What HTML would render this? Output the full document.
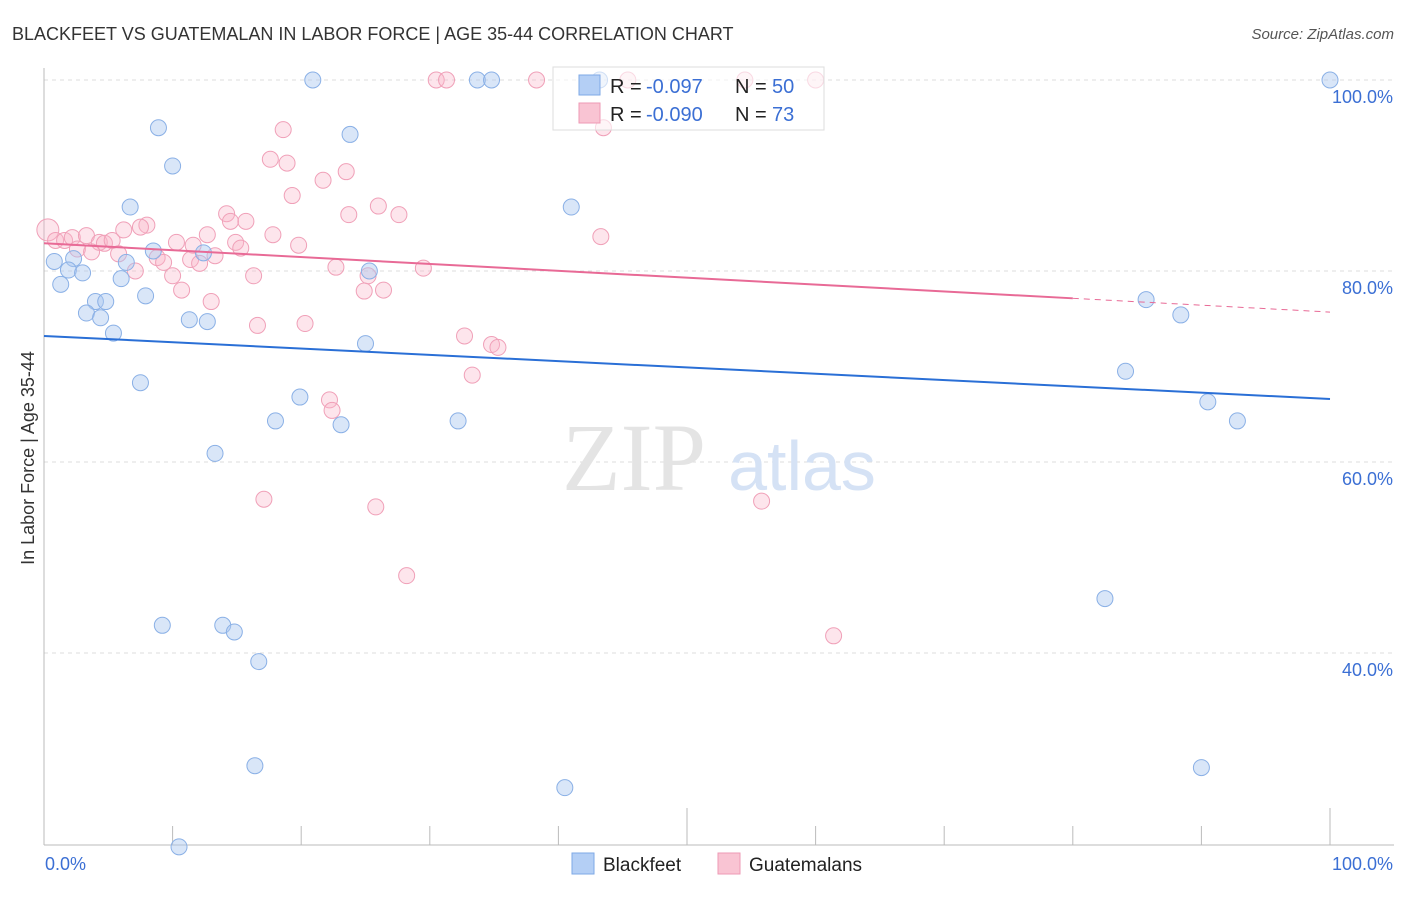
<!DOCTYPE html>
<html><head><meta charset="utf-8"><style>
body{margin:0;background:#fff;font-family:"Liberation Sans",sans-serif}
#wrap{position:relative;width:1406px;height:892px}
</style></head><body>
<div id="wrap">
<svg id="svg" width="1406" height="892" xmlns="http://www.w3.org/2000/svg"></svg>
</div>
<script>
const blueX=[20.9,33.7,34.8,100,43.2,8.9,23.8,10.0,6.7,41.0,0.8,2.3,1.9,3.0,8.5,6.4,1.3,6.0,7.9,4.0,4.8,3.3,4.4,11.3,12.7,5.4,25.0,25.3,12.4,7.5,19.9,18.0,23.1,32.2,13.3,85.7,88.4,84.1,90.5,92.8,82.5,9.2,13.9,14.8,16.7,16.4,40.5,90.0,10.5];
const blueY=[100,100,100,100,100,95.0,94.3,91.0,86.7,86.7,81.0,81.3,80.1,79.8,82.1,80.9,78.6,79.2,77.4,76.8,76.8,75.6,75.1,74.9,74.7,73.5,72.4,80.0,81.9,68.3,66.8,64.3,63.9,64.3,60.9,77.0,75.4,69.5,66.3,64.3,45.7,42.9,42.9,42.2,39.1,28.2,25.9,28.0,19.7];
const pinkX=[30.5,31.3,38.3,45.4,54.5,60.0,43.5,18.6,17.6,18.9,21.7,23.5,19.3,14.2,14.5,15.7,23.7,26.0,27.6,43.3,0.3,0.9,1.6,2.2,3.3,4.3,4.7,5.3,6.2,8.0,7.5,10.3,12.7,11.6,14.9,15.3,17.8,19.8,2.6,3.7,5.8,8.8,9.3,11.4,12.1,13.3,7.1,10.0,16.3,22.7,25.2,29.5,10.7,24.9,26.4,13.0,16.6,20.3,32.7,34.8,35.3,33.3,22.2,22.4,17.1,25.8,55.8,28.2,61.4];
const pinkY=[100,100,100,100,100,100,95.0,94.8,91.7,91.3,89.5,90.4,87.9,86.0,85.2,85.2,85.9,86.8,85.9,83.6,84.3,83.2,83.2,83.5,83.7,83.0,82.9,83.2,84.3,84.8,84.6,83.0,83.8,82.7,83.0,82.4,83.8,82.7,82.3,82.0,81.8,81.4,80.9,81.2,80.8,81.6,80.0,79.5,79.5,80.4,79.5,80.3,78.0,77.9,78.0,76.8,74.3,74.5,73.2,72.3,72.0,69.1,66.5,65.4,56.1,55.3,55.9,48.1,41.8];
const blueTrend=[73.2,66.6];
const pinkTrend=[82.9,75.7];
const yTicks=[100,80,60,40];
const xTicks=[10,20,30,40,50,60,70,80,90,100];

const NS="http://www.w3.org/2000/svg";
const svg=document.getElementById('svg');
const sx=v=>44+v*12.86;
const sy=v=>80+(100-v)*9.55;
function el(t,a,txt){const e=document.createElementNS(NS,t);for(const k in a)e.setAttribute(k,a[k]);if(txt!==undefined)e.textContent=txt;svg.appendChild(e);return e;}

let e;
e=el('text',{x:12,y:40,'font-size':18,fill:'#333'},'BLACKFEET VS GUATEMALAN IN LABOR FORCE | AGE 35-44 CORRELATION CHART');


e=el('text',{x:1394,y:39,'font-size':15,fill:'#555','text-anchor':'end','font-style':'italic'},'Source: ZipAtlas.com');



yTicks.forEach(v=>{
 e=el('line',{x1:44,x2:1394,y1:sy(v),y2:sy(v),stroke:'#ddd','stroke-dasharray':'4,4'});
 
 
 e=el('text',{x:1393,y:sy(v)+23,'font-size':18,fill:'#3b6fd4','text-anchor':'end'},v.toFixed(1)+'%');
 
 
});
e=el('text',{x:0,y:0,'font-size':18,fill:'#333','text-anchor':'middle',transform:'translate(34,458) rotate(-90)'},'In Labor Force | Age 35-44');



e=el('text',{x:634,y:490,'font-size':96,fill:'#e4e4e4','font-family':'Liberation Serif, serif','text-anchor':'middle'},'ZIP');


e=el('text',{x:802,y:490,'font-size':70,fill:'#d5e2f5','text-anchor':'middle'},'atlas');



e=el('line',{x1:44,x2:44,y1:68,y2:845,stroke:'#bbb'});


e=el('line',{x1:44,x2:1394,y1:845,y2:845,stroke:'#bbb'});


xTicks.forEach(v=>{
 const top=(v===50||v===100)?808:826;
 e=el('line',{x1:sx(v),x2:sx(v),y1:top,y2:845,stroke:'#bbb'});
 
 
});
e=el('text',{x:45,y:870,'font-size':18,fill:'#3b6fd4'},'0.0%');


e=el('text',{x:1393,y:870,'font-size':18,fill:'#3b6fd4','text-anchor':'end'},'100.0%');



pinkX.forEach((x,i)=>{
 e=el('circle',{cx:sx(x),cy:sy(pinkY[i]),r:i===20?11:8,fill:'rgba(248,180,200,0.35)',stroke:'#f0a0b8','stroke-width':1});
 
 
});
blueX.forEach((x,i)=>{
 e=el('circle',{cx:sx(x),cy:sy(blueY[i]),r:8,fill:'rgba(170,200,240,0.45)',stroke:'#8ab0e6','stroke-width':1});
 
 
});
e=el('line',{x1:sx(0),y1:sy(blueTrend[0]),x2:sx(100),y2:sy(blueTrend[1]),stroke:'#2a6fd6','stroke-width':2});


const pAt=v=>pinkTrend[0]+(pinkTrend[1]-pinkTrend[0])*v/100;
e=el('line',{x1:sx(0),y1:sy(pAt(0)),x2:sx(80),y2:sy(pAt(80)),stroke:'#e86a96','stroke-width':2});


e=el('line',{x1:sx(80),y1:sy(pAt(80)),x2:sx(100),y2:sy(pAt(100)),stroke:'#e86a96','stroke-width':1,'stroke-dasharray':'6,5'});



e=el('rect',{x:553,y:67,width:271,height:63,fill:'rgba(255,255,255,0.6)',stroke:'#ddd'});


const rows=[['#b4cff5','#7ea8e6','-0.097','50',85],['#f9c4d3','#ee9ab4','-0.090','73',113]];
rows.forEach(r=>{
 e=el('rect',{x:579,y:r[4]-10,width:21,height:20,fill:r[0],stroke:r[1]});
 
 
 e=el('text',{x:610,y:r[4]+8,'font-size':20,fill:'#222'},'R = ');
 
 
 e=el('text',{x:646,y:r[4]+8,'font-size':20,fill:'#3b6fd4'},r[2]);
 
 
 e=el('text',{x:735,y:r[4]+8,'font-size':20,fill:'#222'},'N = ');
 
 
 e=el('text',{x:772,y:r[4]+8,'font-size':20,fill:'#3b6fd4'},r[3]);
 
 
});
[[572,'#b4cff5','#7ea8e6','Blackfeet'],[718,'#f9c4d3','#ee9ab4','Guatemalans']].forEach(l=>{
 e=el('rect',{x:l[0],y:853,width:22,height:21,fill:l[1],stroke:l[2]});
 
 
 e=el('text',{x:l[0]+31,y:871,'font-size':19,fill:'#222'},l[3]);
 
 
});
</script>
</body></html>
